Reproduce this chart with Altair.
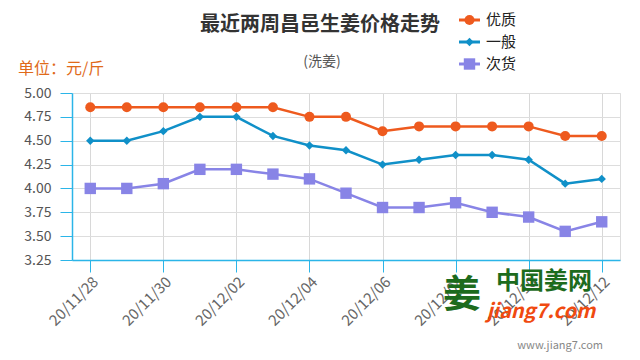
import altair as alt
import pandas as pd

dates = ["20/11/28", "20/11/29", "20/11/30", "20/12/01", "20/12/02", "20/12/03",
         "20/12/04", "20/12/05", "20/12/06", "20/12/07", "20/12/08", "20/12/09",
         "20/12/10", "20/12/11", "20/12/12"]
series_names = ["优质", "一般", "次货"]
youzhi = [4.85, 4.85, 4.85, 4.85, 4.85, 4.85, 4.75, 4.75, 4.60, 4.65, 4.65, 4.65, 4.65, 4.55, 4.55]
yiban = [4.50, 4.50, 4.60, 4.75, 4.75, 4.55, 4.45, 4.40, 4.25, 4.30, 4.35, 4.35, 4.30, 4.05, 4.10]
cihuo = [4.00, 4.00, 4.05, 4.20, 4.20, 4.15, 4.10, 3.95, 3.80, 3.80, 3.85, 3.75, 3.70, 3.55, 3.65]
y_ticks = [3.25, 3.50, 3.75, 4.00, 4.25, 4.50, 4.75, 5.00]
x_label_dates = dates[::2]

colors = ["#ee5a1e", "#1090c8", "#8884e6"]
shapes = ["circle", "diamond", "square"]
sizes = [100, 70, 130]

rows = []
for name, vals in zip(series_names, [youzhi, yiban, cihuo]):
    for d, v in zip(dates, vals):
        rows.append({"date": d, "series": name, "value": v})
df = pd.DataFrame(rows)

FONT = "Noto Sans CJK SC"
AXIS_BLUE = "#2bb5e8"
OX, OY = 72, 93  # plot origin in page pixels

x_enc = alt.X("date:N", sort=dates,
              scale=alt.Scale(type="point", domain=dates, padding=0.5),
              axis=alt.Axis(values=x_label_dates, labelAngle=-45, title=None,
                            grid=True, gridColor="#d8d8d8", domainColor=AXIS_BLUE,
                            tickColor=AXIS_BLUE, tickSize=12, labelColor="#666666",
                            labelFontSize=15, labelFont=FONT, labelPadding=2,
                            domainWidth=1.5))
y_enc = alt.Y("value:Q",
              scale=alt.Scale(domain=[3.25, 5.0], nice=False, zero=False),
              axis=alt.Axis(values=y_ticks, format=".2f", title=None, grid=True,
                            gridColor="#dddddd", domainColor=AXIS_BLUE,
                            tickColor=AXIS_BLUE, tickSize=12, labelColor="#555555",
                            labelFontSize=14, labelFont=FONT, labelPadding=9,
                            domainWidth=1.5))
color_enc = alt.Color("series:N", scale=alt.Scale(domain=series_names, range=colors), legend=None)

base = alt.Chart(df)
lines = base.mark_line(strokeWidth=2.5).encode(x=x_enc, y=y_enc, color=color_enc, detail="series:N")
point_layers = []
for name, col, shp, sz in zip(series_names, colors, shapes, sizes):
    point_layers.append(
        base.transform_filter(alt.datum.series == name)
        .mark_point(filled=True, opacity=1, shape=shp, size=sz, color=col)
        .encode(x=x_enc, y=y_enc)
    )

def txt(text, px, py, size, color, weight="normal", align="center", style="normal", font=FONT):
    return alt.Chart(alt.Data(values=[{"t": text}])).mark_text(
        fontSize=size, color=color, fontWeight=weight, align=align, baseline="middle",
        font=font, fontStyle=style
    ).encode(text="t:N", x=alt.value(px - OX), y=alt.value(py - OY))

texts = [
    txt("最近两周昌邑生姜价格走势", 320, 25, 20, "#333333", weight="bold"),
    txt("(洗姜)", 322, 62, 14, "#555555"),
    txt("单位：元/斤", 18, 69, 16, "#e06a1a", align="left"),
    txt("姜", 462, 296, 38, "#1d6b1d", weight="bold"),
    txt("中国姜网", 544, 282, 24, "#1d6b1d", weight="bold"),
    txt("jiang7.com", 541, 312, 20, "#f04a10", weight="bold", style="italic"),
    txt("www.jiang7.com", 603, 346, 11, "#888888", align="right"),
]

legend_layers = []
for i, (name, col, shp, sz) in enumerate(zip(series_names, colors, shapes, sizes)):
    ly = [20, 42, 64][i]
    d = alt.Data(values=[{"n": name}])
    legend_layers.append(alt.Chart(d).mark_rule(color=col, strokeWidth=3).encode(
        x=alt.value(459 - OX), x2=alt.value(480 - OX), y=alt.value(ly - OY)))
    legend_layers.append(alt.Chart(d).mark_point(filled=True, opacity=1, shape=shp, size=sz, color=col).encode(
        x=alt.value(469.5 - OX), y=alt.value(ly - OY)))
    legend_layers.append(alt.Chart(d).mark_text(fontSize=15, color="#222222", align="left",
                                                baseline="middle", font=FONT).encode(
        text="n:N", x=alt.value(486 - OX), y=alt.value(ly - OY)))

chart = alt.layer(lines, *point_layers, *texts, *legend_layers).properties(
    width=548, height=167,
    autosize=alt.AutoSizeParams(type="none"),
    padding={"left": 64, "top": 85, "right": 12, "bottom": 100},
).configure_view(stroke=None).configure(background="white")

chart.save("out.html", embed_options={"renderer": "svg", "actions": False})
